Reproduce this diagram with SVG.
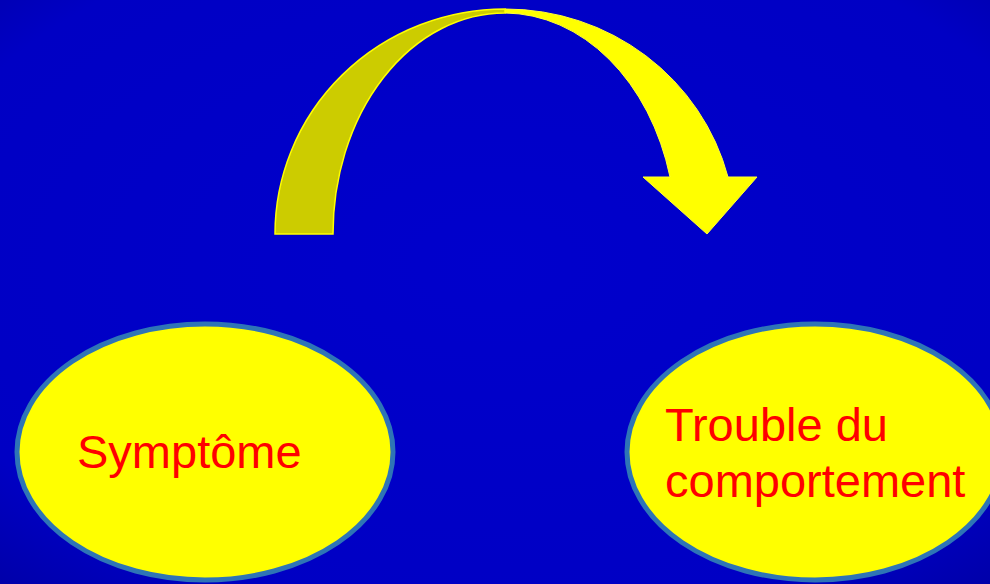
<svg xmlns="http://www.w3.org/2000/svg" width="990" height="584" viewBox="0 0 990 584">
<defs>
<radialGradient id="bg" cx="0.5" cy="0.45" r="0.75">
<stop offset="0" stop-color="#0000CC"/>
<stop offset="0.8" stop-color="#0000C4"/>
<stop offset="1" stop-color="#0000A8"/>
</radialGradient>
<style>
.node{fill:#FFFF00;stroke:#2E75B6;stroke-width:5}
.lbl{font-family:"Liberation Sans",Arial,sans-serif;font-size:47px;fill:#FF0000}
</style>
</defs>
<rect width="990" height="584" fill="url(#bg)"/>
<g id="connectors">
<path d="M505 9 A230 225 0 0 1 728 177 L757 177 L707 234 L643 177 L670 177 A172 221 0 0 0 505 13 Z" fill="#FFFF00" stroke="#FFFF33" stroke-width="1"/>
<path d="M275 234 A230 225 0 0 1 505 9 L505 13 A172 221 0 0 0 333 234 Z" fill="#CCCC00" stroke="#FFFF00" stroke-width="1.5"/>
</g>
<g id="symptome">
<ellipse class="node" cx="205" cy="452" rx="188" ry="128"/>
<text class="lbl" x="77" y="468">Symptôme</text>
</g>
<g id="trouble">
<ellipse class="node" cx="815" cy="452" rx="188" ry="128"/>
<text class="lbl" x="665" y="441">Trouble du</text>
<text class="lbl" x="665" y="497">comportement</text>
</g>
</svg>
